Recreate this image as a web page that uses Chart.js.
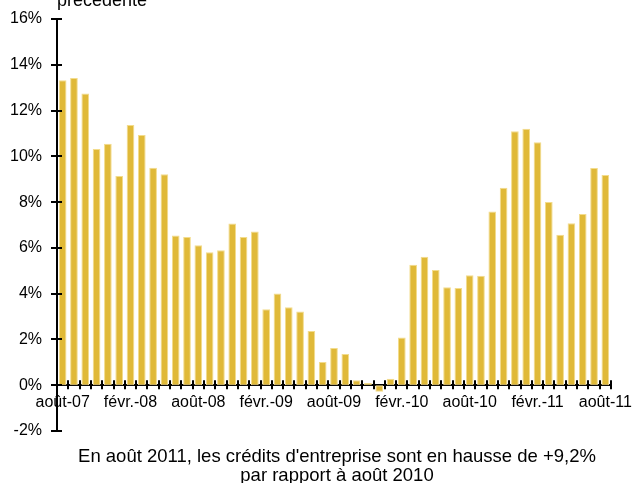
<!DOCTYPE html>
<html>
<head>
<meta charset="utf-8">
<script src="https://cdn.jsdelivr.net/npm/chart.js@4/dist/chart.umd.min.js"></script>
<style>
  html, body { margin: 0; padding: 0; background: #fff; }
  #wrap { width: 632px; height: 483px; position: relative; }
</style>
</head>
<body>
<div id="wrap"><canvas id="c" width="632" height="483"></canvas></div>
<script>
const categories = [
  'août-07','sept.-07','oct.-07','nov.-07','déc.-07','janv.-08','févr.-08','mars-08','avr.-08','mai-08','juin-08','juil.-08',
  'août-08','sept.-08','oct.-08','nov.-08','déc.-08','janv.-09','févr.-09','mars-09','avr.-09','mai-09','juin-09','juil.-09',
  'août-09','sept.-09','oct.-09','nov.-09','déc.-09','janv.-10','févr.-10','mars-10','avr.-10','mai-10','juin-10','juil.-10',
  'août-10','sept.-10','oct.-10','nov.-10','déc.-10','janv.-11','févr.-11','mars-11','avr.-11','mai-11','juin-11','juil.-11',
  'août-11'
];
const shownLabels = ['août-07','févr.-08','août-08','févr.-09','août-09','févr.-10','août-10','févr.-11','août-11'];
const values = [
  13.32, 13.42, 12.75, 10.32, 10.55, 9.14, 11.37, 10.93, 9.50, 9.22,
  6.54, 6.48, 6.12, 5.81, 5.90, 7.07, 6.48, 6.72, 3.32, 4.01,
  3.41, 3.22, 2.37, 1.01, 1.63, 1.36, 0.22, 0.10, -0.29, 0.28,
  2.08, 5.26, 5.61, 5.03, 4.28, 4.25, 4.81, 4.78, 7.59, 8.63,
  11.10, 11.20, 10.62, 8.01, 6.57, 7.08, 7.48, 9.49, 9.18
];
const yTicks = [-2, 0, 2, 4, 6, 8, 10, 12, 14, 16];
const topTitle = 'précédente';
const caption = ["En août 2011, les crédits d'entreprise sont en hausse de +9,2%", 'par rapport à août 2010'];

const FONT = '"Liberation Sans", Arial, sans-serif';

const crossTicks = {
  id: 'crossTicks',
  afterDraw(chart) {
    const ctx = chart.ctx;
    const x = chart.scales.x, y = chart.scales.y;
    const y0 = y.getPixelForValue(0);
    ctx.save();
    ctx.strokeStyle = '#000';
    ctx.lineWidth = 2;
    const n = categories.length;
    const step = (x.right - x.left) / n;
    ctx.beginPath();
    for (let i = 0; i <= n; i++) {
      const px = Math.round(x.left + i * step);
      ctx.moveTo(px, y0 - 5);
      ctx.lineTo(px, y0 + 4);
    }
    for (const v of yTicks) {
      const py = Math.round(y.getPixelForValue(v));
      ctx.moveTo(x.left - 6, py);
      ctx.lineTo(x.left + 5, py);
    }
    ctx.stroke();
    ctx.fillStyle = '#000';
    ctx.font = '18px ' + FONT;
    ctx.textAlign = 'left';
    ctx.textBaseline = 'alphabetic';
    ctx.fillText(topTitle, x.left, 6);
    ctx.font = '18.5px ' + FONT;
    ctx.textAlign = 'center';
    ctx.fillText(caption[0], 337, 462);
    ctx.fillText(caption[1], 337, 481);
    ctx.restore();
  }
};

new Chart(document.getElementById('c'), {
  type: 'bar',
  data: {
    labels: categories,
    datasets: [{
      data: values,
      backgroundColor: '#e0b938',
      borderColor: '#f3dc8c',
      borderWidth: 1,
      categoryPercentage: 1,
      barPercentage: 0.68,
      borderSkipped: false
    }]
  },
  options: {
    responsive: false,
    animation: false,
    devicePixelRatio: 1,
    layout: { padding: { top: 19, right: 21, left: 0, bottom: 52 } },
    plugins: {
      legend: { display: false },
      tooltip: { enabled: false },
      title: { display: false }
    },
    scales: {
      x: {
        position: { y: 0 },
        offset: true,
        grid: { display: false, drawTicks: false },
        border: { display: true, color: '#000', width: 2 },
        afterFit(scale) { scale.paddingLeft = 0; scale.paddingRight = 0; },
        ticks: {
          autoSkip: false,
          maxRotation: 0,
          minRotation: 0,
          padding: 8,
          color: '#000',
          font: { family: FONT, size: 16 },
          callback: function(v, i) {
            const lab = categories[i];
            return shownLabels.includes(lab) && i % 6 === 0 ? lab : '';
          }
        }
      },
      y: {
        min: -2,
        max: 16,
        grid: { display: false, drawTicks: false },
        border: { display: true, color: '#000', width: 2 },
        afterFit(scale) { scale.width = 57; scale.paddingTop = 0; scale.paddingBottom = 0; },
        afterBuildTicks(scale) { scale.ticks = yTicks.map(v => ({ value: v })); },
        ticks: {
          padding: 15,
          color: '#000',
          font: { family: FONT, size: 16 },
          callback: v => v + '%'
        }
      }
    }
  },
  plugins: [crossTicks]
});
</script>
</body>
</html>
